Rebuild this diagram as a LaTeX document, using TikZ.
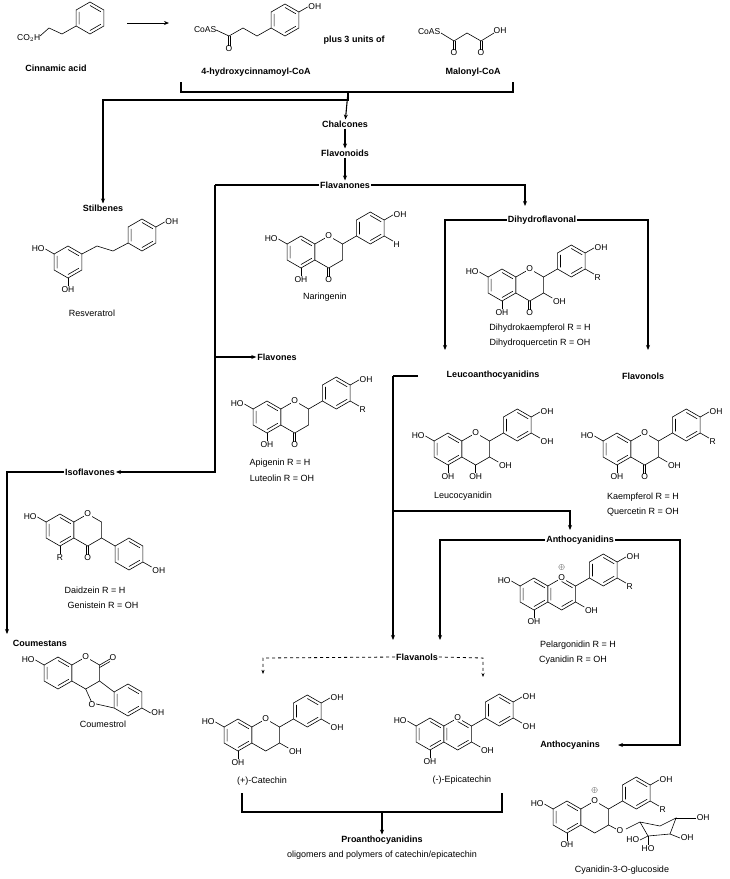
\documentclass[tikz,border=0pt]{standalone}
\usepackage{fontspec}
\setmainfont{Liberation Sans}
\usetikzlibrary{positioning,arrows.meta}

\tikzset{
  lbl/.style={font=\fontsize{9}{10}\selectfont\bfseries, inner sep=1pt},
  nm/.style={font=\fontsize{9}{10}\selectfont, inner sep=1pt},
  atom/.style={font=\fontsize{8.5}{9}\selectfont, inner sep=0.5pt},
  flow/.style={line width=1.1pt, -{Stealth[length=5pt,width=4pt]}},
  bar/.style={line width=1.1pt},
  mol/.style={line width=0.6pt}
}
% ring of radius 16 around (x,y)
\newcommand{\hexa}[2]{\draw[mol] (#1,#2) +(90:16) -- +(30:16) -- +(-30:16) -- +(-90:16) -- +(-150:16) -- +(150:16) -- cycle;}
\newcommand{\inner}[2]{\draw[mol] (#1,#2) +(90:12.5) -- +(30:12.5) +(-30:12.5) -- +(-90:12.5) +(-150:12.5) -- +(150:12.5);}
\newcommand{\arom}[2]{\hexa{#1}{#2}\inner{#1}{#2}}
% flavan skeleton: A ring centre, name prefix
\newcommand{\flav}[3]{\arom{#1}{#2}\hexa{#1+27.7}{#2}\arom{#1+69.3}{#2-24}
  \draw[mol] (#1+41.6,#2-8) -- (#1+55.4,#2-16);
  \draw[mol] (#1-13.9,#2-8) -- (#1-22.6,#2-13) node[atom,anchor=east] (#3ho) {HO};
  \draw[mol] (#1,#2+16) -- (#1,#2+24) node[atom,anchor=north] (#3oh) {OH};
  \node[atom,fill=white] (#3o) at (#1+27.7,#2-16) {O};
  \draw[mol] (#1+83.2,#2-32) -- (#1+91.9,#2-37) node[atom,anchor=west] (#3po) {OH};}
\newcommand{\meta}[4]{\draw[mol] (#1+83.2,#2-16) -- (#1+91.9,#2-11) node[atom,anchor=north west] (#3m) {#4};}
\newcommand{\keto}[3]{\draw[mol] (#1+26.7,#2+16) -- (#1+26.7,#2+25) (#1+28.7,#2+16) -- (#1+28.7,#2+25);
  \node[atom,anchor=north] (#3k) at (#1+27.7,#2+24) {O};}
\newcommand{\thoh}[3]{\draw[mol] (#1+41.6,#2+8) -- (#1+50.3,#2+13) node[atom,anchor=north west] (#3t) {OH};}

\begin{document}
\begin{tikzpicture}[x=1pt,y=-1pt]
\useasboundingbox (0,0) rectangle (730,879);

% precursors
\arom{90}{18}
\draw[mol] (76.1,26) -- (62,34) -- (49,28) -- (40,36);
\node[atom,anchor=east] (co2h) at (41,38) {CO$_2$H};
\node[lbl] (cinn) at (56,68) {Cinnamic acid};
\arom{285}{20}
\draw[mol] (271.1,28) -- (257,36) -- (243,28) -- (229,36) -- (216,30);
\draw[mol] (228,36) -- (228,46) (230,36) -- (230,46);
\node[atom,anchor=north] (o1) at (229,45) {O};
\node[atom,anchor=east] (coas1) at (217,30) {CoAS};
\draw[mol] (298.9,12) -- (307.6,7) node[atom,anchor=west] (oh1) {OH};
\node[lbl] (hcoa) at (256,72) {4-hydroxycinnamoyl-CoA};
\node[lbl] (plus) at (354,40) {plus 3 units of};
\node[atom,anchor=east] (coas2) at (441,32) {CoAS};
\draw[mol] (441,33) -- (454,41) -- (467,33) -- (481,41) -- (494,33);
\draw[mol] (453,41) -- (453,50) (455,41) -- (455,50) (480,41) -- (480,50) (482,41) -- (482,50);
\node[atom,anchor=north] (o2) at (454,49) {O};
\node[atom,anchor=north] (o3) at (481,49) {O};
\node[atom,anchor=west] (oh2) at (493,31) {OH};
\node[lbl] (malo) at (473,72) {Malonyl-CoA};
\draw[line width=0.8pt,-{Stealth[length=5pt,width=4pt]}] (127,23) -- (169,23);

\node[lbl] (chal) at (345,124) {Chalcones};
\node[lbl] (flavo) at (345,153) {Flavonoids};
\node[lbl] (flan) at (345,185) {Flavanones};
\node[lbl] (stil) at (103,208) {Stilbenes};
\node[lbl] (dihy) at (542,220) {Dihydroflavonal};
\draw[bar] (181,82) -- (181,92) -- (513,92) -- (513,82);
\draw[flow] (348,92) -- (chal);
\draw[flow] (348,92) -- (348,100) -- (103,100) -- (stil);
\draw[flow] (chal) -- (flavo);
\draw[flow] (flavo) -- (flan);

% Resveratrol
\arom{68}{262}
\arom{142}{235}
\draw[mol] (81.9,254) -- (97,246) -- (113,251) -- (128.1,243);
\draw[mol] (54.1,254) -- (45.4,249) node[atom,anchor=east] (ho1) {HO};
\draw[mol] (68,278) -- (68,286) node[atom,anchor=north] (oh3) {OH};
\draw[mol] (155.9,227) -- (164.6,222) node[atom,anchor=west] (oh4) {OH};
\node[nm] (resv) at (92,313) {Resveratrol};

% Naringenin
\flav{301}{252}{nar}
\keto{301}{252}{nar}
\meta{301}{252}{nar}{H}
\node[nm] (nari) at (325,297) {Naringenin};

% Dihydroflavonols
\flav{502}{285}{dhk}
\keto{502}{285}{dhk}
\meta{502}{285}{dhk}{R}
\thoh{502}{285}{dhk}
\node[nm] (dkae) at (540,328) {Dihydrokaempferol R = H};
\node[nm] (dque) at (540,343) {Dihydroquercetin R = OH};

\node[lbl] (flne) at (277,357) {Flavones};
\node[lbl] (leuc) at (493,375) {Leucoanthocyanidins};
\node[lbl] (flol) at (643,376) {Flavonols};
\node[lbl] (isof) at (90,472) {Isoflavones};
\draw[bar] (flan) -- (215,185);
\draw[flow] (215,185) -- (215,472) -- (isof);
\draw[flow] (215,357) -- (flne);
\draw[flow] (flan) -- (525,185) -- (525,206);
\draw[flow] (dihy.west) -- (445,220) -- (445,350);
\draw[flow] (dihy.east) -- (648,220) -- (648,350);

% Apigenin
\flav{267}{417}{api}
\keto{267}{417}{api}
\meta{267}{417}{api}{R}
\node[nm] (apig) at (280,463) {Apigenin R = H};
\node[nm] (lute) at (282,478) {Luteolin R = OH};

% Leucocyanidin
\flav{448}{449}{lcy}
\meta{448}{449}{lcy}{OH}
\thoh{448}{449}{lcy}
\draw[mol] (475.7,465) -- (475.7,473) node[atom,anchor=north] (lcyf) {OH};
\node[nm] (leucy) at (463,496) {Leucocyanidin};

% Kaempferol
\flav{617}{449}{kae}
\keto{617}{449}{kae}
\meta{617}{449}{kae}{R}
\thoh{617}{449}{kae}
\node[nm] (kaem) at (643,497) {Kaempferol R = H};
\node[nm] (quer) at (643,512) {Quercetin R = OH};

% Daidzein
\arom{60}{530}
\hexa{87.7}{530}
\arom{129}{554}
\draw[mol] (101.6,538) -- (115.1,546);
\draw[mol] (46.1,522) -- (37.4,517) node[atom,anchor=east] (ho7) {HO};
\node[atom,fill=white] (o8) at (87.7,514) {O};
\draw[mol] (60,546) -- (60,554) node[atom,anchor=north] (r4) {R};
\keto{60}{530}{dai}
\draw[mol] (142.9,562) -- (151.6,567) node[atom,anchor=north west] (oh20) {OH};
\node[nm] (daid) at (95,590) {Daidzein R = H};
\node[nm] (geni) at (103,605) {Genistein R = OH};

\node[lbl] (anth) at (580,540) {Anthocyanidins};
\node[lbl] (coum) at (40,643) {Coumestans};
\draw[flow] (isof.west) -- (7,472) -- (7,634);
\draw[bar] (418,376) -- (393,376);
\draw[flow] (393,376) -- (393,640);
\draw[flow] (393,511) -- (570,511) -- (570,530);
\draw[flow] (anth.west) -- (440,540) -- (440,640);
\draw[flow] (anth.east) -- (680,540) -- (680,745) -- (618,745);

% Pelargonidin
\flav{534}{594}{pel}
\inner{561.7}{594}
\meta{534}{594}{pel}{R}
\thoh{534}{594}{pel}
\node[atom] (plus1) at (561.7,567) {$\oplus$};
\node[nm] (pela) at (578,645) {Pelargonidin R = H};
\node[nm] (cyan) at (573,660) {Cyanidin R = OH};

% Coumestrol
\arom{58}{673}
\hexa{85.7}{673}
\arom{128}{700}
\draw[mol] (44.1,665) -- (35.4,660) node[atom,anchor=east] (ho9) {HO};
\node[atom,fill=white] (o11) at (85.7,657) {O};
\draw[mol] (99.6,665) -- (110,659) (99.6,667.5) -- (110,661.5);
\node[atom,anchor=west] (o12) at (109,658) {O};
\draw[mol] (99.6,681) -- (114.1,692) (85.7,689) -- (92,703) -- (114.1,708);
\node[atom,fill=white] (o13) at (92,705) {O};
\draw[mol] (141.9,708) -- (150.6,713) node[atom,anchor=west] (oh24) {OH};
\node[nm] (cmst) at (103,724) {Coumestrol};

\node[lbl] (flnol) at (417,657) {Flavanols};
\node[lbl] (acy) at (570,745) {Anthocyanins};
\draw[dashed,line width=0.8pt,-{Stealth[length=4pt,width=3pt]}] (flnol.west) -- (263,658) -- (263,674);
\draw[dashed,line width=0.8pt,-{Stealth[length=4pt,width=3pt]}] (flnol.east) -- (483,658) -- (483,677);

% Catechin
\flav{238}{735}{cat}
\meta{238}{735}{cat}{OH}
\thoh{238}{735}{cat}
\node[nm] (cate) at (262,781) {(+)-Catechin};

% Epicatechin
\flav{430}{734}{epi}
\inner{457.7}{734}
\meta{430}{734}{epi}{OH}
\thoh{430}{734}{epi}
\node[nm] (epic) at (462,780) {(-)-Epicatechin};

\node[lbl] (proa) at (382,840) {Proanthocyanidins};
\node[nm] (olig) at (382,855) {oligomers and polymers of catechin/epicatechin};
\draw[bar] (242,793) -- (242,812) -- (502,812) -- (502,793);
\draw[flow] (382,812) -- (proa);

% Cyanidin-3-O-glucoside
\flav{567}{817}{cgl}
\meta{567}{817}{cgl}{R}
\node[atom] (plus2) at (594.7,790) {$\oplus$};
\draw[mol] (608.6,825) -- (618,830);
\node[atom,fill=white] (o15) at (620,831) {O};
\draw[mol] (626,829) -- (640,822) -- (660,826) -- (676,818) -- (670,834) -- (648,836) -- (640,822)
  (670,834) -- (676,818);
\draw[mol] (676,818) -- (696,818) node[atom,anchor=west] (oh35) {OH};
\draw[mol] (670,834) -- (680,838) node[atom,anchor=west] (oh36) {OH};
\draw[mol] (648,836) -- (640,840) node[atom,anchor=east] (ho13) {HO};
\draw[mol] (648,836) -- (648,845) node[atom,anchor=north] (ho14) {HO};
\node[nm] (c3g) at (622,870) {Cyanidin-3-O-glucoside};
\end{tikzpicture}
\end{document}
